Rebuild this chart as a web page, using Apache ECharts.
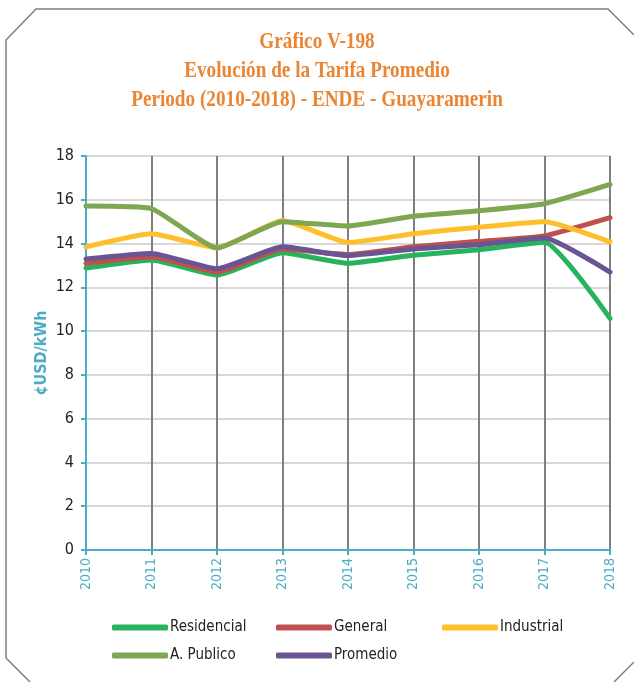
<!DOCTYPE html>
<html>
<head>
<meta charset="utf-8">
<script src="https://cdn.jsdelivr.net/npm/echarts@6/dist/echarts.min.js"></script>
<style>
  html, body { margin: 0; padding: 0; background: #fff; }
  #chart { width: 634px; height: 682px; }
</style>
</head>
<body>
<div id="chart"></div>
<script>
	// datos
	var years = ["2010", "2011", "2012", "2013", "2014", "2015", "2016", "2017", "2018"];
	var residencial = [12.88, 13.25, 12.56, 13.58, 13.1, 13.47, 13.72, 14.06, 10.58];
	var general = [13.1, 13.4, 12.7, 13.75, 13.5, 13.85, 14.1, 14.35, 15.18];
	var industrial = [13.85, 14.45, 13.8, 15.05, 14.05, 14.45, 14.75, 15.0, 14.08];
	var aPublico = [15.72, 15.6, 13.8, 15.0, 14.8, 15.25, 15.5, 15.82, 16.7];
	var promedio = [13.3, 13.55, 12.85, 13.85, 13.45, 13.75, 13.95, 14.25, 12.7];

	var names = ["Residencial", "General", "Industrial", "A. Publico", "Promedio"];
	var values = [residencial, general, industrial, aPublico, promedio];
	var colors = ["#27b35b", "#c0504d", "#ffbf2a", "#7fa650", "#6a5493"];

	var teal = "#4bacc6";
	var narrow = "'Liberation Sans Narrow', 'DejaVu Sans Condensed', sans-serif";

	var series = [];
	for(var i=0; i<names.length; i++)
	{
		series.push({
			name: names[i],
			type: "line",
			data: values[i],
			smooth: 0.15,
			symbol: "none",
			lineStyle: { width: 5, color: colors[i], cap: "round" },
			itemStyle: { color: colors[i] }
		});
	}

	// una leyenda por elemento para ubicar las columnas
	var legendPos = [[112, 620], [276, 620], [442, 620], [112, 648], [276, 648]];
	var legends = [];
	for(var i=0; i<names.length; i++)
	{
		legends.push({
			data: [names[i]],
			left: legendPos[i][0],
			top: legendPos[i][1],
			padding: 0,
			itemWidth: 56,
			itemHeight: 6,
			itemGap: 0,
			icon: "roundRect",
			textStyle: { color: "#222", fontSize: 15, fontFamily: narrow, padding: [0, 0, 0, -3] }
		});
	}

	var titleFont = "'Liberation Serif', 'DejaVu Serif', serif";

	var chart = echarts.init(document.getElementById("chart"));
	chart.setOption({
		animation: false,
		backgroundColor: "#fff",
		legend: legends,
		grid: { left: 86, right: 24, top: 156, bottom: 132, containLabel: false },
		xAxis: {
			type: "category",
			data: years,
			boundaryGap: false,
			axisLine: { lineStyle: { color: teal, width: 2 } },
			axisTick: { show: true, alignWithLabel: true, length: 5, lineStyle: { color: teal, width: 2 } },
			axisLabel: { rotate: 90, color: teal, fontSize: 14, fontFamily: narrow, margin: 8 },
			splitLine: { show: true, lineStyle: { color: "#7f7f7f", width: 2 } }
		},
		yAxis: {
			type: "value",
			min: 0,
			max: 18,
			interval: 2,
			name: "¢USD/kWh",
			nameLocation: "middle",
			nameGap: 36,
			nameMoveOverlap: false,
			nameTextStyle: { color: teal, fontSize: 16, fontWeight: "bold", fontFamily: narrow },
			axisLine: { show: true, lineStyle: { color: teal, width: 2 } },
			axisTick: { show: true, length: 5, lineStyle: { color: teal, width: 2 } },
			axisLabel: { color: "#222", fontSize: 16, fontFamily: narrow, margin: 12 },
			splitLine: { show: true, lineStyle: { color: "#d9d9d9", width: 2 } }
		},
		graphic: [{
			// titulo angosto: texto real escalado en horizontal
			type: "text",
			x: 317,
			y: 27,
			scaleX: 0.8,
			silent: true,
			style: {
				text: "Gráfico V-198\nEvolución de la Tarifa Promedio\nPeriodo (2010-2018) - ENDE - Guayaramerin",
				x: 0,
				y: 0,
				align: "center",
				verticalAlign: "top",
				fill: "#ea8633",
				font: "bold 24px " + titleFont,
				lineHeight: 29
			}
		}, {
			type: "polyline",
			silent: true,
			shape: { points: [[6, 658], [6, 40], [36, 9], [608, 9], [634, 35]] },
			style: { fill: null, stroke: "#7f7f7f", lineWidth: 1.5 }
		}, {
			type: "polyline",
			silent: true,
			shape: { points: [[6, 658], [30, 682]] },
			style: { fill: null, stroke: "#7f7f7f", lineWidth: 1.5 }
		}, {
			type: "polyline",
			silent: true,
			shape: { points: [[614, 682], [634, 662]] },
			style: { fill: null, stroke: "#7f7f7f", lineWidth: 1.5 }
		}],
		series: series
	});
</script>
</body>
</html>
